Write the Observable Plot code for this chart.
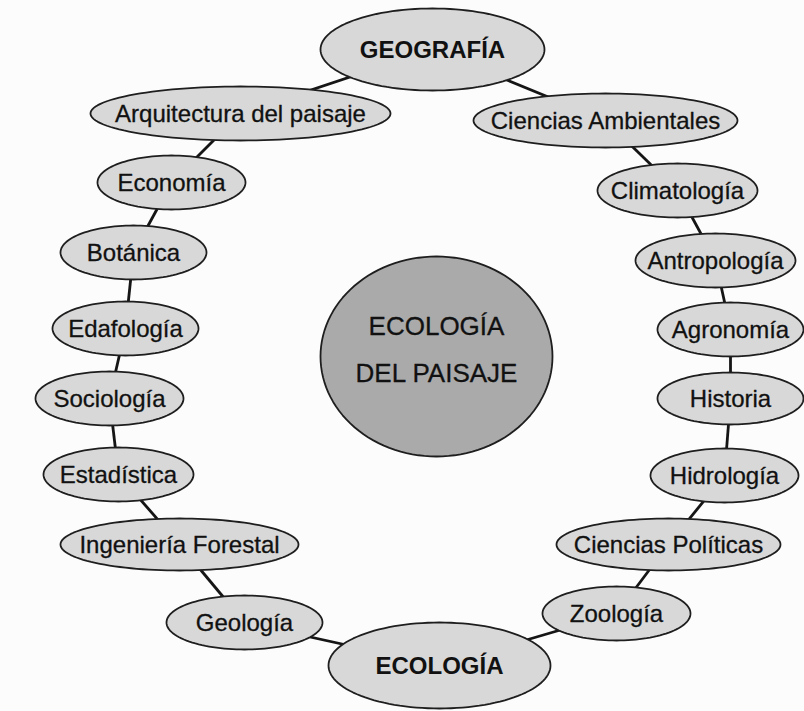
<!DOCTYPE html>
<html>
<head>
<meta charset="utf-8">
<script src="https://cdn.jsdelivr.net/npm/d3@7"></script>
<script src="https://cdn.jsdelivr.net/npm/@observablehq/plot@0.6"></script>
<style>
  html, body { margin: 0; padding: 0; background: #fcfcfc; }
  #chart svg { display: block; }
</style>
</head>
<body>
<div id="chart"></div>
<script>
// Nodes of the ring, in order (clockwise from the top)
const labels = ["GEOGRAFÍA", "Ciencias Ambientales", "Climatología", "Antropología", "Agronomía", "Historia",
  "Hidrología", "Ciencias Políticas", "Zoología", "ECOLOGÍA", "Geología", "Ingeniería Forestal",
  "Estadística", "Sociología", "Edafología", "Botánica", "Economía", "Arquitectura del paisaje"];
const major = ["GEOGRAFÍA", "ECOLOGÍA"];
const nodeX = [432, 605, 677, 715, 730, 730, 724, 668, 616, 439, 244, 179, 118, 109, 125, 133, 171, 240];
const nodeY = [49, 120, 190, 260, 329, 398, 475, 544, 613, 665, 622, 544, 474, 398, 328, 252, 182, 113];
const nodeRX = [112, 132, 80, 80, 73, 73, 74, 112, 74, 111, 78, 119, 75, 74, 73, 73, 74, 150];
const nodeRY = [41, 27, 27, 27, 27, 26, 27, 26, 27, 43, 27, 26, 27, 27, 27, 27, 27, 27];

// Central node
const centerLines = ["ECOLOGÍA", "DEL PAISAJE"];
const centerX = [436];
const centerY = [356];
const centerRX = [116];
const centerRY = [100];

const nodes = labels.map((label, i) => ({label, x: nodeX[i], y: nodeY[i], rx: nodeRX[i], ry: nodeRY[i], major: major.includes(label)}));
const links = nodes.map((n, i) => ({a: n, b: nodes[(i + 1) % nodes.length]}));

function ellipsePoints(list) {
  const pts = [];
  const steps = 120;
  list.forEach((n, k) => {
    for (let s = 0; s < steps; s++) {
      const t = (s / steps) * 2 * Math.PI;
      pts.push({id: k, x: n.x + n.rx * Math.cos(t), y: n.y + n.ry * Math.sin(t)});
    }
  });
  return pts;
}

const center = {x: centerX[0], y: centerY[0], rx: centerRX[0], ry: centerRY[0]};
const font = "Liberation Sans, Arial, sans-serif";

const chart = Plot.plot({
  width: 804,
  height: 711,
  margin: 0,
  style: {background: "#fcfcfc"},
  x: {domain: [0, 804], range: [0, 804], axis: null},
  y: {domain: [0, 711], range: [0, 711], axis: null},
  marks: [
    Plot.link(links, {x1: d => d.a.x, y1: d => d.a.y, x2: d => d.b.x, y2: d => d.b.y,
      stroke: "#151515", strokeWidth: 2.8}),
    Plot.line(ellipsePoints(nodes), {x: "x", y: "y", z: "id", curve: "linear-closed",
      fill: "#d8d8d8", stroke: "#1e1e1e", strokeWidth: 1.8}),
    Plot.line(ellipsePoints([center]), {x: "x", y: "y", z: "id", curve: "linear-closed",
      fill: "#aaaaaa", stroke: "#1e1e1e", strokeWidth: 1.8}),
    Plot.text(nodes.filter(d => !d.major), {x: "x", y: d => d.y + 1, text: "label",
      fontFamily: font, fontSize: 24, fill: "#111", stroke: "#111", strokeWidth: 0.3}),
    Plot.text(nodes.filter(d => d.major), {x: "x", y: d => d.y + 1, text: "label",
      fontFamily: font, fontSize: 24, fontWeight: "bold", fill: "#111"}),
    Plot.text(centerLines, {x: () => center.x, y: (d, i) => center.y + (i === 0 ? -30 : 17), text: d => d,
      fontFamily: font, fontSize: 26, fill: "#111", stroke: "#111", strokeWidth: 0.3})
  ]
});
document.getElementById("chart").appendChild(chart);
</script>
</body>
</html>
